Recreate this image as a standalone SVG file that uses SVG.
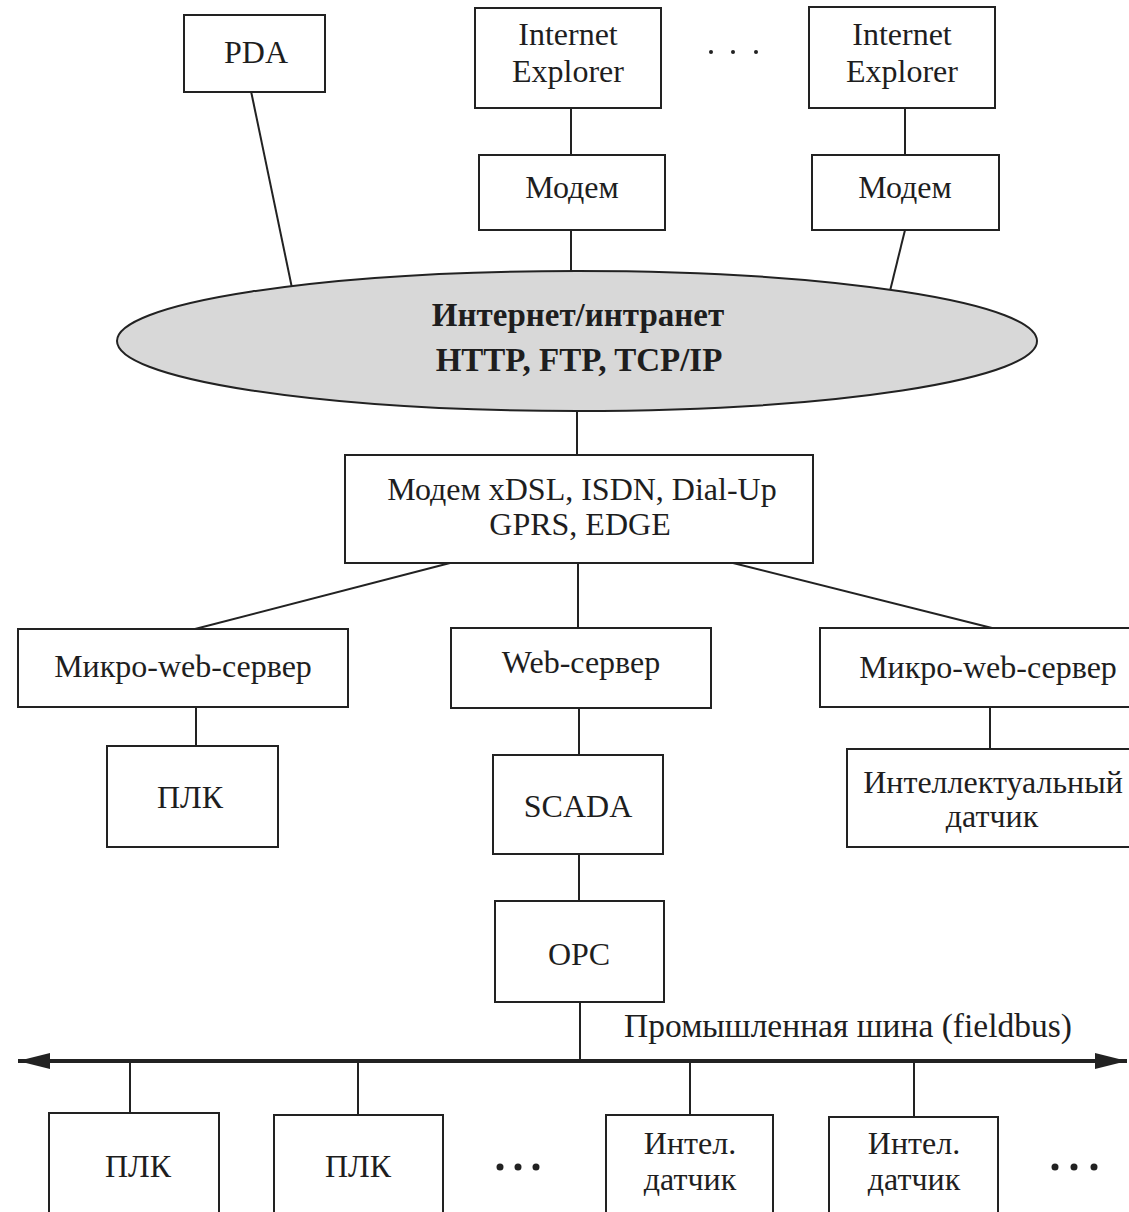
<svg xmlns="http://www.w3.org/2000/svg" width="1129" height="1212" viewBox="0 0 1129 1212">
<style>
.box{fill:#fff;stroke:#222;stroke-width:2}
.ln{stroke:#222;stroke-width:2;fill:none}
.t{font-family:"Liberation Serif","Times New Roman",serif;font-size:32px;fill:#1e1e1e;text-anchor:middle}
.b{font-weight:bold;font-size:33px}
.dot{fill:#222}
</style>
<defs>
<marker id="arr" markerUnits="userSpaceOnUse" markerWidth="34" markerHeight="18" refX="32" refY="8" orient="auto-start-reverse" viewBox="0 0 34 18">
<path d="M0,0 L32,8 L0,16 Z" fill="#222"/>
</marker>
</defs>
<rect width="1129" height="1212" fill="#fff"/>

<g id="connectors">
<line class="ln" x1="251" y1="91" x2="292" y2="288"/>
<line class="ln" x1="571" y1="108" x2="571" y2="155"/>
<line class="ln" x1="571" y1="230" x2="571" y2="272"/>
<line class="ln" x1="905" y1="108" x2="905" y2="155"/>
<line class="ln" x1="905" y1="230" x2="890" y2="291"/>
<line class="ln" x1="577" y1="411" x2="577" y2="455"/>
<line class="ln" x1="450" y1="563" x2="195" y2="629"/>
<line class="ln" x1="578" y1="563" x2="578" y2="628"/>
<line class="ln" x1="733" y1="563" x2="992" y2="628"/>
<line class="ln" x1="196" y1="707" x2="196" y2="746"/>
<line class="ln" x1="579" y1="708" x2="579" y2="755"/>
<line class="ln" x1="990" y1="707" x2="990" y2="749"/>
<line class="ln" x1="579" y1="854" x2="579" y2="901"/>
<line class="ln" x1="580" y1="1002" x2="580" y2="1061"/>
<line x1="18" y1="1061" x2="1127" y2="1061" stroke="#222" stroke-width="4" marker-start="url(#arr)" marker-end="url(#arr)"/>
<line class="ln" x1="130" y1="1061" x2="130" y2="1113"/>
<line class="ln" x1="358" y1="1061" x2="358" y2="1115"/>
<line class="ln" x1="690" y1="1061" x2="690" y2="1115"/>
<line class="ln" x1="914" y1="1061" x2="914" y2="1117"/>
</g>

<g id="pda"><rect class="box" x="184" y="15" width="141" height="77"/><text class="t" x="256" y="63">PDA</text></g>
<g id="ie1"><rect class="box" x="475" y="8" width="186" height="100"/><text class="t" x="568" y="45">Internet</text><text class="t" x="568" y="82">Explorer</text></g>
<g id="dots-top"><circle class="dot" cx="711" cy="52" r="2"/><circle class="dot" cx="733" cy="52" r="2"/><circle class="dot" cx="756" cy="52" r="2"/></g>
<g id="ie2"><rect class="box" x="809" y="7" width="186" height="101"/><text class="t" x="902" y="45">Internet</text><text class="t" x="902" y="82">Explorer</text></g>
<g id="modem1"><rect class="box" x="479" y="155" width="186" height="75"/><text class="t" x="572" y="198">Модем</text></g>
<g id="modem2"><rect class="box" x="812" y="155" width="187" height="75"/><text class="t" x="905" y="198">Модем</text></g>

<g id="internet"><ellipse cx="577" cy="341" rx="460" ry="70" fill="#d8d8d8" stroke="#222" stroke-width="2"/>
<text class="t b" x="578" y="326">Интернет/интранет</text><text class="t b" x="579" y="371">HTTP, FTP, TCP/IP</text></g>

<g id="modemx"><rect class="box" x="345" y="455" width="468" height="108"/><text class="t" x="582" y="500">Модем xDSL, ISDN, Dial-Up</text><text class="t" x="580" y="535">GPRS, EDGE</text></g>

<g id="micro1"><rect class="box" x="18" y="629" width="330" height="78"/><text class="t" x="183" y="677">Микро-web-сервер</text></g>
<g id="web"><rect class="box" x="451" y="628" width="260" height="80"/><text class="t" x="581" y="673">Web-сервер</text></g>
<g id="micro2"><rect class="box" x="820" y="628" width="330" height="79"/><text class="t" x="988" y="678">Микро-web-сервер</text></g>

<g id="plk-top"><rect class="box" x="107" y="746" width="171" height="101"/><text class="t" x="190" y="808">ПЛК</text></g>
<g id="scada"><rect class="box" x="493" y="755" width="170" height="99"/><text class="t" x="578" y="817">SCADA</text></g>
<g id="sensor"><rect class="box" x="847" y="749" width="300" height="98"/><text class="t" x="993" y="793">Интеллектуальный</text><text class="t" x="992" y="827">датчик</text></g>

<g id="opc"><rect class="box" x="495" y="901" width="169" height="101"/><text class="t" x="579" y="965">OPC</text></g>

<g id="bus-label"><text class="t" x="848" y="1037" style="font-size:33.5px">Промышленная шина (fieldbus)</text></g>

<g id="plk1"><rect class="box" x="49" y="1113" width="170" height="110"/><text class="t" x="138" y="1177">ПЛК</text></g>
<g id="plk2"><rect class="box" x="274" y="1115" width="169" height="110"/><text class="t" x="358" y="1177">ПЛК</text></g>
<g id="dots-bottom-1"><circle class="dot" cx="500" cy="1167" r="3.5"/><circle class="dot" cx="518" cy="1167" r="3.5"/><circle class="dot" cx="536" cy="1167" r="3.5"/></g>
<g id="sensor1"><rect class="box" x="606" y="1115" width="167" height="110"/><text class="t" x="690" y="1154">Интел.</text><text class="t" x="690" y="1190">датчик</text></g>
<g id="sensor2"><rect class="box" x="829" y="1117" width="169" height="110"/><text class="t" x="914" y="1154">Интел.</text><text class="t" x="914" y="1190">датчик</text></g>
<g id="dots-bottom-2"><circle class="dot" cx="1055" cy="1167" r="3.5"/><circle class="dot" cx="1074" cy="1167" r="3.5"/><circle class="dot" cx="1094" cy="1167" r="3.5"/></g>
</svg>
